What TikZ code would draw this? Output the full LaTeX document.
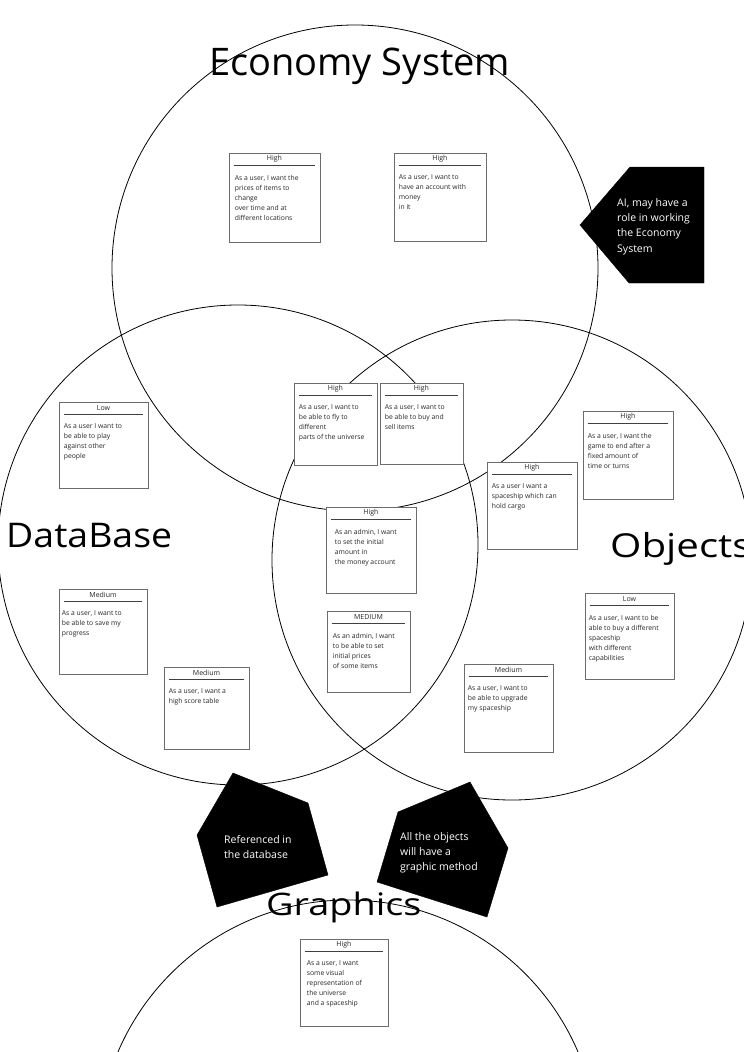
\documentclass[tikz,border=0pt]{standalone}
\usepackage{fontspec}
\setmainfont{Open Sans}
\newfontfamily\widefont[FakeStretch=1.1]{Open Sans}
\newfontfamily\widerfont[FakeStretch=1.22]{Open Sans}
\newcommand\usercard[8]{% name, left, top, right, bottom, header, text, text-left-offset
  \node[cardbox, minimum width={(#4-#2)*1pt}, minimum height={(#5-#3)*1pt}] (#1) at ({(#2+#4)/2},{(#3+#5)/2}) {};
  \node[cardhead] (#1h) at ($(#1.north)+(0,6)$) {#6};
  \draw[cardrule] ($(#1.north west)+(5,13)$) -- ($(#1.north east)+(-5,13)$);
  \node[cardtext] (#1t) at ($(#1.north west)+(#8,22)$) {#7};
}
\usetikzlibrary{calc}
\begin{document}
\begin{tikzpicture}[x=1pt,y=-1pt,
  ring/.style={draw=black, line width=0.8pt},
  cardbox/.style={draw=gray!85!black, fill=white, line width=0.7pt, inner sep=0pt},
  cardrule/.style={draw=black!75, line width=0.7pt},
  cardhead/.style={font=\fontsize{7}{8}\selectfont, inner sep=0pt, anchor=center, text=black!85},
  cardtext/.style={font=\fontsize{6.8}{10}\selectfont, inner sep=0pt, anchor=north west, align=left, text=black!85},
  titletext/.style={inner sep=0pt, anchor=base west},
  tag/.style={fill=black, draw=black},
  tagtext/.style={text=white, font=\fontsize{10.5}{15.3}\selectfont, align=left, anchor=north west, inner sep=0pt}]
\useasboundingbox (0,0) rectangle (744,1052);
\clip (0,0) rectangle (744,1052);
\fill[white] (0,0) rectangle (744,1052);
% circles
\draw[ring] (355,268) circle[radius=243];
\draw[ring] (238,545) circle[radius=240];
\draw[ring] (512,560) circle[radius=240];
\draw[ring] (348,1150) circle[radius=250];
% titles
\node[titletext, font=\fontsize{38}{40}\selectfont] (teco) at (209,75) {Economy System};
\node[titletext, font=\widefont\fontsize{34}{36}\selectfont] (tdb) at (6,547) {DataBase};
\node[titletext, font=\widerfont\fontsize{33}{36}\selectfont] (tobj) at (610,557) {Objects};
\node[titletext, font=\widerfont\fontsize{31}{32}\selectfont] (tgfx) at (266,915) {Graphics};
% cards
\usercard{c1}{229}{153}{320}{242}{High}{As a user, I want the\\prices of items to\\change\\over time and at\\different locations}{6}
\usercard{c2}{394}{153}{486}{241}{High}{As a user, I want to\\have an account with\\money\\in it}{5}
\usercard{c3}{59}{402}{148}{488}{Low}{As a user I want to\\be able to play\\against other\\people}{5}
\usercard{c4}{294}{383}{377}{465}{High}{As a user, I want to\\be able to fly to\\different\\parts of the universe}{5}
\usercard{c5}{380}{383}{463}{464}{High}{As a user, I want to\\be able to buy and\\sell items}{5}
\usercard{c6}{583}{411}{673}{499}{High}{As a user, I want the\\game to end after a\\fixed amount of\\time or turns}{5}
\usercard{c7}{487}{462}{577}{549}{High}{As a user I want a\\spaceship which can\\hold cargo}{5}
\usercard{c8}{326}{507}{416}{593}{High}{As an admin, I want\\to set the initial\\amount in\\the money account}{9}
\usercard{c9}{327}{611}{410}{692}{MEDIUM}{As an admin, I want\\to be able to set\\initial prices\\of some items}{6}
\usercard{c10}{59}{589}{147}{674}{Medium}{As a user, I want to\\be able to save my\\progress}{3}
\usercard{c11}{164}{667}{249}{749}{Medium}{As a user, I want a\\high score table}{5}
\usercard{c12}{585}{593}{674}{679}{Low}{As a user, I want to be\\able to buy a different\\spaceship\\with different\\capabilities}{4}
\usercard{c13}{464}{664}{553}{752}{Medium}{As a user, I want to\\be able to upgrade\\my spaceship}{4}
\usercard{c14}{300}{939}{388}{1026}{High}{As a user, I want\\some visual\\representation of\\the universe\\and a spaceship}{7}
% tags
\filldraw[tag] (630,167) -- (704,167) -- (704,283) -- (629,283) -- (580,225) -- cycle;
\node[tagtext] (ait) at (617,198) {AI, may have a\\role in working\\the Economy\\System};
\filldraw[tag] (233,773) -- (308,803) -- (328,875) -- (217,907) -- (197,835) -- cycle;
\node[tagtext] (reft) at (224,835) {Referenced in\\the database};
\filldraw[tag] (470,782) -- (508,848) -- (487,917) -- (377,882) -- (398,812) -- cycle;
\node[tagtext] (objt) at (400,832) {All the objects\\will have a\\graphic method};
\end{tikzpicture}
\end{document}
